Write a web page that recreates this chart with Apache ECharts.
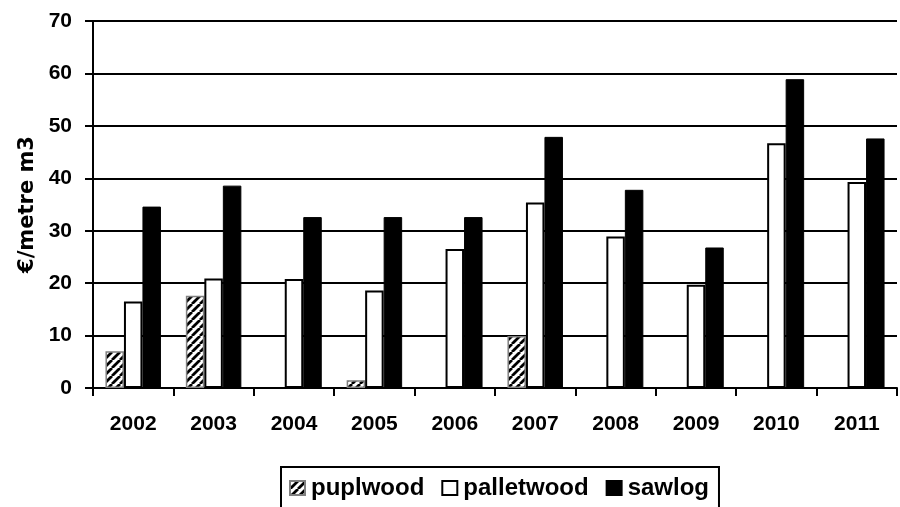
<!DOCTYPE html>
<html>
<head>
<meta charset="utf-8">
<script src="https://cdn.jsdelivr.net/npm/echarts@6/dist/echarts.min.js"></script>
<style>
html,body{margin:0;padding:0;background:#fff;}
#chart{width:900px;height:507px;}
</style>
</head>
<body>
<div id="chart"></div>
<script>
const years = ['2002','2003','2004','2005','2006','2007','2008','2009','2010','2011'];
const pulpwood = [7.0, 17.6, null, 1.5, null, 9.9, null, null, null, null];
const palletwood = [16.5, 20.9, 20.8, 18.6, 26.5, 35.4, 28.9, 19.7, 46.7, 39.3];
const sawlog = [34.6, 38.6, 32.6, 32.6, 32.6, 47.9, 37.8, 26.8, 58.9, 47.6];
const yTicks = [0, 10, 20, 30, 40, 50, 60, 70];

function hatch() {
  const c = document.createElement('canvas');
  const s = 8;
  c.width = s; c.height = s;
  const g = c.getContext('2d');
  g.fillStyle = '#fff';
  g.fillRect(0, 0, s, s);
  g.strokeStyle = '#000';
  g.lineWidth = 2.8;
  g.beginPath();
  for (let k = -1; k <= 1; k++) {
    g.moveTo(k * s, s);
    g.lineTo(k * s + s, 0);
  }
  g.stroke();
  return c;
}

const chart = echarts.init(document.getElementById('chart'), null, {renderer: 'canvas'});
const font = '"Liberation Sans", Arial, sans-serif';
chart.setOption({
  animation: false,
  grid: {left: 93, right: 3, top: 21, bottom: 119, containLabel: false},
  legend: {
    left: 281, top: 467,
    icon: 'rect',
    itemWidth: 15, itemHeight: 14, itemGap: 17,
    padding: [9, 10, 24, 8],
    borderColor: '#000', borderWidth: 2,
    textStyle: {fontFamily: font, fontWeight: 'bold', fontSize: 24, color: '#000', padding: [0, 0, 0, 1]},
    data: ['puplwood', 'palletwood', 'sawlog']
  },
  xAxis: {
    type: 'category', data: years,
    axisLine: {lineStyle: {color: '#000', width: 2}},
    axisTick: {show: true, length: 8, lineStyle: {color: '#000', width: 2}},
    axisLabel: {color: '#000', fontFamily: font, fontWeight: 'bold', fontSize: 21, margin: 26}
  },
  yAxis: {
    type: 'value', min: yTicks[0], max: yTicks[yTicks.length - 1], interval: 10,
    name: '€/metre m3', nameLocation: 'middle', nameGap: 52,
    nameTextStyle: {color: '#000', fontFamily: '"DejaVu Sans", sans-serif', fontWeight: 'bold', fontSize: 21},
    axisLine: {show: true, lineStyle: {color: '#000', width: 2}},
    axisTick: {show: true, length: 8, lineStyle: {color: '#000', width: 2}},
    axisLabel: {color: '#000', fontFamily: font, fontWeight: 'bold', fontSize: 21, margin: 21},
    splitLine: {show: true, lineStyle: {color: '#000', width: 2}}
  },
  series: [
    {name: 'puplwood', type: 'bar', data: pulpwood, barWidth: 18.5, barGap: '0%',
     itemStyle: {color: {image: hatch(), repeat: 'repeat'}, borderColor: '#808080', borderWidth: 1.5}},
    {name: 'palletwood', type: 'bar', data: palletwood, barWidth: 18.5, barGap: '0%',
     itemStyle: {color: '#fff', borderColor: '#000', borderWidth: 2}},
    {name: 'sawlog', type: 'bar', data: sawlog, barWidth: 18.5, barGap: '0%',
     itemStyle: {color: '#000', borderColor: '#000', borderWidth: 1}}
  ]
});
</script>
</body>
</html>
